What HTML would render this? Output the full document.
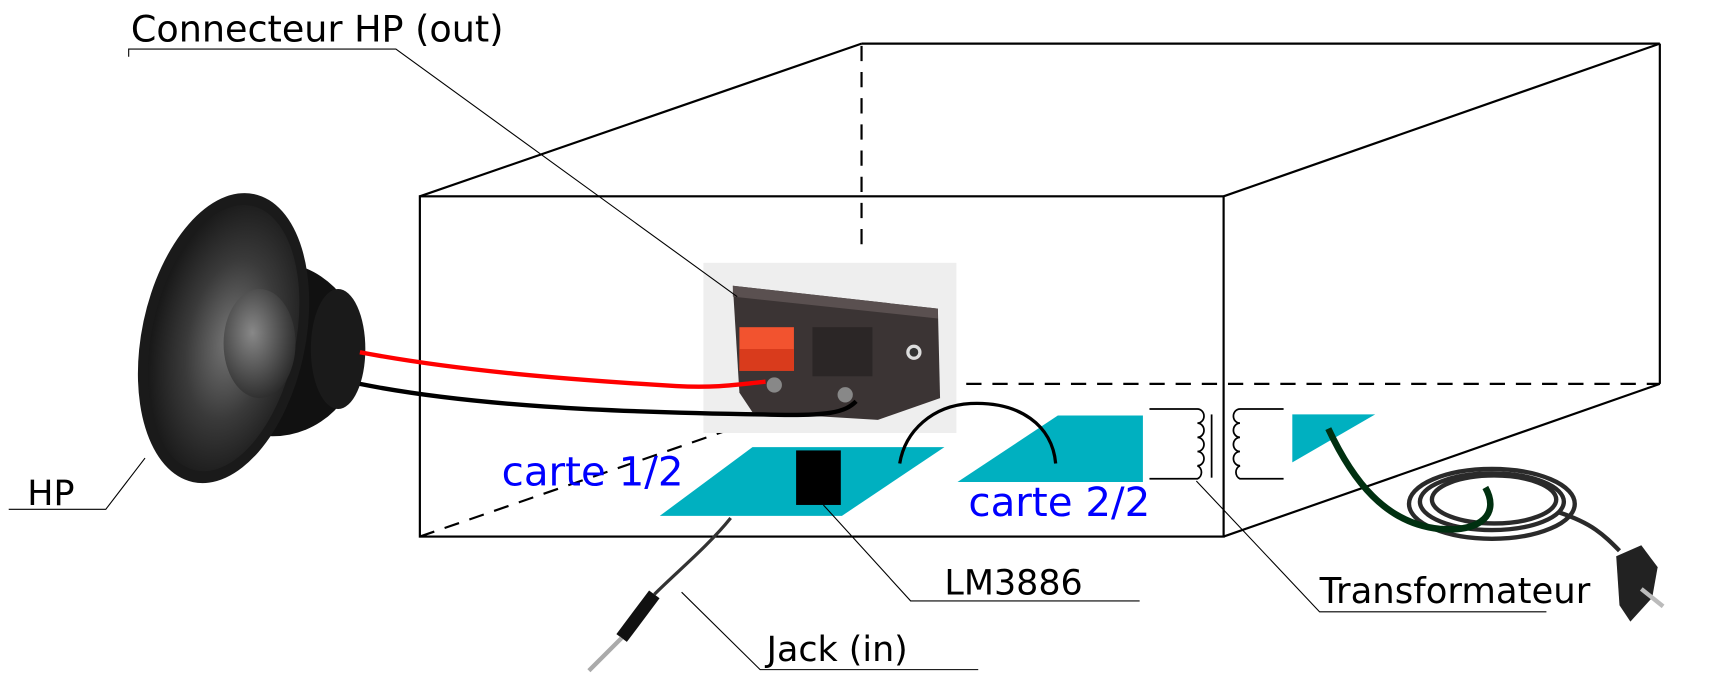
<!DOCTYPE html>
<html><head><meta charset="utf-8"><style>
html,body{margin:0;padding:0;background:#fff;}
svg{display:block;}
text{font-family:"DejaVu Sans","Liberation Sans",sans-serif;}
</style></head><body>
<svg width="1710" height="698" viewBox="0 0 1568 640" xmlns="http://www.w3.org/2000/svg">
<defs>
<radialGradient id="cone" cx="0.55" cy="0.5" r="0.6">
<stop offset="0" stop-color="#777"/><stop offset="0.5" stop-color="#3a3a3a"/><stop offset="1" stop-color="#111"/>
</radialGradient>
<radialGradient id="dome" cx="0.4" cy="0.4" r="0.7">
<stop offset="0" stop-color="#888"/><stop offset="1" stop-color="#222"/>
</radialGradient>
</defs>
<g fill="none" stroke="#000" stroke-width="2">
<rect x="385" y="180" width="737" height="312"/>
<line x1="385" y1="180" x2="790" y2="40"/>
<line x1="790" y1="40" x2="1522" y2="40"/>
<line x1="1122" y1="180" x2="1522" y2="40"/>
<line x1="1522" y1="40" x2="1522" y2="352"/>
<line x1="1122" y1="492" x2="1522" y2="352"/>
</g>
<g fill="none" stroke="#000" stroke-width="2" stroke-dasharray="14,10">
<line x1="790" y1="42" x2="790" y2="230"/>
<line x1="790" y1="352" x2="1522" y2="352"/>
<line x1="385" y1="492" x2="790" y2="352"/>
</g>
<rect x="645" y="241" width="232" height="156" fill="#eeeeee"/>
<path d="M672 262 L860 283 L862 365 L805 385 L690 378 L678 360 Z" fill="#3b3434"/>
<path d="M672 262 L860 283 L860 292 L672 272 Z" fill="#5a5050"/>
<rect x="678" y="300" width="50" height="40" fill="#f2532f"/>
<rect x="678" y="320" width="50" height="20" fill="#d93b1c"/>
<rect x="745" y="300" width="55" height="45" fill="#2b2626"/>
<circle cx="838" cy="323" r="7" fill="#ddd"/><circle cx="838" cy="323" r="4" fill="#333"/>
<circle cx="710" cy="353" r="7" fill="#888"/><circle cx="775" cy="362" r="7" fill="#888"/>
<ellipse cx="250" cy="320" rx="80" ry="80" fill="#111"/>
<ellipse cx="310" cy="320" rx="25" ry="55" fill="#1a1a1a"/>
<ellipse cx="205" cy="310" rx="75" ry="135" fill="#1a1a1a" transform="rotate(12 205 310)"/>
<ellipse cx="205" cy="310" rx="66" ry="124" fill="url(#cone)" transform="rotate(12 205 310)"/>
<ellipse cx="238" cy="315" rx="33" ry="50" fill="url(#dome)"/>
<path d="M330 323 C420 340 520 348 620 354 C660 356 680 352 702 350" fill="none" stroke="#f00" stroke-width="4"/>
<path d="M330 352 C430 372 560 378 700 380 C760 382 775 378 785 368" fill="none" stroke="#000" stroke-width="4"/>
<polygon points="605,473 690,410 866,410 772,473" fill="#00b0c0"/>
<rect x="730" y="413" width="41" height="50" fill="#000"/>
<polygon points="878,442 970,381 1048,381 1048,442" fill="#00b0c0"/>
<path d="M825 425 C830 395 855 372 890 370 C935 368 965 390 968 425" fill="none" stroke="#000" stroke-width="3"/>
<polygon points="1185,380 1261,380 1185,424" fill="#00b0c0"/>
<g fill="none" stroke="#000" stroke-width="1.6">
<path d="M1054 375 H1098 a6 6.5 0 0 1 0 13 a6 6.5 0 0 1 0 13 a6 6.5 0 0 1 0 13 a6 6.5 0 0 1 0 13 a6 6.5 0 0 1 0 12 H1054"/>
<line x1="1111" y1="380" x2="1111" y2="438"/>
<path d="M1177 375 H1137 a6 6.5 0 0 0 0 13 a6 6.5 0 0 0 0 13 a6 6.5 0 0 0 0 13 a6 6.5 0 0 0 0 13 a6 6.5 0 0 0 0 12 H1177"/>
</g>
<g fill="none" stroke="#2a2a2a" stroke-width="4">
<ellipse cx="1368" cy="462" rx="76" ry="32"/>
<ellipse cx="1368" cy="460" rx="66" ry="26"/>
<ellipse cx="1370" cy="458" rx="57" ry="22"/>
<path d="M1430 470 C1460 480 1470 490 1485 505"/>
</g>
<path d="M1482 510 L1505 500 L1520 520 L1515 548 L1495 570 L1485 555 Z" fill="#222"/>
<line x1="1505" y1="540" x2="1525" y2="556" stroke="#bbb" stroke-width="4"/>
<path d="M1218 393 C1240 440 1270 480 1320 485 C1360 488 1375 470 1362 447" fill="none" stroke="#003010" stroke-width="6"/>
<path d="M670 475 C650 500 620 525 600 545" fill="none" stroke="#333" stroke-width="3"/>
<path d="M600 545 L570 585" stroke="#111" stroke-width="12"/>
<path d="M570 585 L540 615" stroke="#aaa" stroke-width="4"/>
<g fill="none" stroke="#000" stroke-width="1">
<polyline points="118,52 118,45 363,45 676,272"/>
<polyline points="8,467 97,467 133,420"/>
<polyline points="1045,551 835,551 755,463"/>
<polyline points="1418,561 1210,561 1097,441"/>
<polyline points="897,614 697,614 625,543"/>
</g>
<g font-size="32" fill="#000">
<text x="120" y="38" font-size="33.5">Connecteur HP (out)</text>
<text x="25" y="463">HP</text>
<text x="866" y="545">LM3886</text>
<text x="1210" y="553" font-size="32.5">Transformateur</text>
<text x="703" y="606">Jack (in)</text>
</g>
<g font-size="37" fill="#0000ff">
<text x="460" y="445">carte 1/2</text>
<text x="888" y="473">carte 2/2</text>
</g>
</svg>
</body></html>
